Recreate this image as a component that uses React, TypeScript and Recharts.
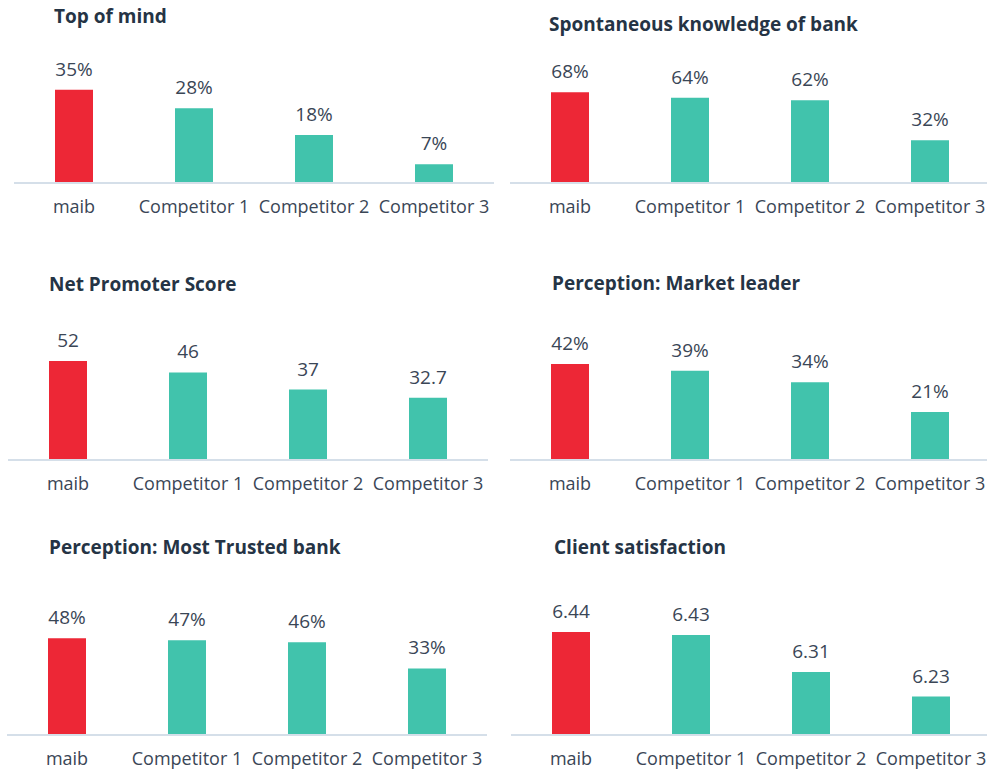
import { BarChart, Bar, XAxis, YAxis, LabelList, Cell } from 'recharts'

const categories = ['maib', 'Competitor 1', 'Competitor 2', 'Competitor 3']
const topOfMind = [35, 28, 18, 7]
const spontaneous = [68, 64, 62, 32]
const nps = [52, 46, 37, 32.7]
const marketLeader = [42, 39, 34, 21]
const mostTrusted = [48, 47, 46, 33]
const satisfaction = [6.44, 6.43, 6.31, 6.23]

const RED = '#ed2736'
const TEAL = '#41c3ac'
const TEXT = '#3a4656'
const TITLE = '#253445'
const FONT = '"Open Sans", sans-serif'

const PLOT_H = 120
const TOP_PAD = 30

type PanelProps = {
  title: string
  values: number[]
  domain: [number, number]
  percent: boolean
  left: number
  axisY: number
  titleX: number
  titleY: number
}

function Panel({ title, values, domain, percent, left, axisY, titleX, titleY }: PanelProps) {
  const data = categories.map((c, i) => ({ name: c, value: values[i] }))
  const fmt = (v: unknown) => (percent ? `${v}%` : `${v}`)
  return (
    <>
      <div
        style={{
          position: 'absolute',
          left: titleX,
          top: titleY,
          fontFamily: FONT,
          fontWeight: 700,
          fontSize: 19,
          lineHeight: '19px',
          color: TITLE,
          whiteSpace: 'nowrap',
        }}
      >
        {title}
      </div>
      <div style={{ position: 'absolute', left, top: axisY - PLOT_H - TOP_PAD }}>
        <BarChart
          width={480}
          height={PLOT_H + TOP_PAD + 40}
          data={data}
          margin={{ top: TOP_PAD, right: 0, left: 0, bottom: 0 }}
        >
          <XAxis
            dataKey="name"
            axisLine={{ stroke: '#d5dfe9', strokeWidth: 2 }}
            tickLine={false}
            tickMargin={11}
            height={40}
            interval={0}
            tick={{ fill: TEXT, fontSize: 18, fontFamily: FONT }}
          />
          <YAxis hide type="number" domain={domain} allowDataOverflow />
          <Bar dataKey="value" barSize={38} isAnimationActive={false}>
            {data.map((d, i) => (
              <Cell key={d.name} fill={i === 0 ? RED : TEAL} />
            ))}
            <LabelList
              dataKey="value"
              position="top"
              offset={14}
              formatter={fmt}
              style={{ fill: TEXT, fontSize: 19, fontFamily: FONT }}
            />
          </Bar>
        </BarChart>
      </div>
    </>
  )
}

export default function App() {
  return (
    <div
      style={{
        position: 'absolute',
        left: 0,
        top: 0,
        width: 987,
        height: 769,
        overflow: 'hidden',
        background: '#fff',
      }}
    >
      <Panel title="Top of mind" values={topOfMind} domain={[0, 45]} percent left={14} axisY={183} titleX={54} titleY={7} />
      <Panel title="Spontaneous knowledge of bank" values={spontaneous} domain={[0, 90]} percent left={510} axisY={183} titleX={549} titleY={15} />
      <Panel title="Net Promoter Score" values={nps} domain={[0, 63]} percent={false} left={8} axisY={459.5} titleX={49} titleY={275} />
      <Panel title="Perception: Market leader" values={marketLeader} domain={[0, 52.5]} percent left={510} axisY={460} titleX={552} titleY={274} />
      <Panel title="Perception: Most Trusted bank" values={mostTrusted} domain={[0, 59.5]} percent left={7} axisY={735} titleX={49} titleY={538} />
      <Panel title="Client satisfaction" values={satisfaction} domain={[6.105, 6.495]} percent={false} left={511} axisY={735} titleX={554} titleY={538} />
    </div>
  )
}
